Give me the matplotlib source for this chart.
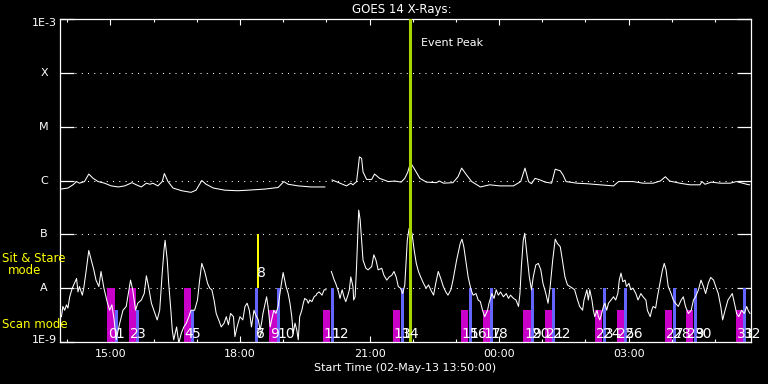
import matplotlib
matplotlib.use('Agg')
import matplotlib.pyplot as plt
import numpy as np

# Tiempo en minutos desde 02-May-13 13:50:00, flujo en log10(W/m^2)
# Canal 1-8 A (curva superior), con hueco de datos
t_long = [1, 11, 18, 23, 27, 34, 40, 46, 53, 62, 71, 81, 90, 100, 106, 113, 120, 125, 129,
          136, 142, 145, 150, 157, 169, 182, 189, 197, 203, 213, 229, 247, 261, 284, 303,
          311, 317, 331, 349, 368, np.nan,
          378, 389, 398, 404, 407, 412, 414, 416, 419, 421, 426, 433, 437, 444, 456, 465,
          474, 479, 483, 487, 493, 500, 509, 523, 527, 533, 546, 553, 558, 565, 572, 584,
          597, 611, 630, 640, 646, 651, 655, 660, 667, 674, 683, 688, 695, 699, 703, 718,
          732, 750, 769, 776, 796, 810, 824, 834, 841, 847, 861, 875, 889, 892, 896, 905,
          917, 931, 940, 954, 958]
log_long = [-6.16, -6.14, -6.08, -6.02, -6.05, -6.02, -5.88, -5.96, -6.02, -6.05, -6.10,
            -6.12, -6.10, -6.04, -6.08, -6.12, -6.05, -6.07, -6.05, -6.10, -6.02, -5.87,
            -6.02, -6.14, -6.19, -6.22, -6.18, -6.00, -6.07, -6.14, -6.18, -6.19, -6.18,
            -6.16, -6.13, -6.02, -6.07, -6.10, -6.12, -6.12, np.nan,
            -5.99, -6.05, -6.10, -6.05, -6.08, -6.02, -5.80, -5.56, -5.59, -5.84, -5.98,
            -5.98, -5.88, -5.96, -6.02, -6.01, -6.03, -5.96, -5.85, -5.67, -5.80, -5.96,
            -6.03, -6.04, -6.01, -6.05, -6.04, -5.93, -5.77, -5.90, -6.02, -6.12, -6.08,
            -6.10, -6.10, -6.02, -5.77, -6.02, -6.06, -5.96, -5.99, -6.03, -6.05, -5.79,
            -5.82, -5.90, -6.02, -6.05, -6.06, -6.08, -6.10, -6.02, -6.02, -6.05, -6.05,
            -6.01, -5.93, -6.01, -6.05, -6.08, -6.08, -6.02, -6.07, -6.03, -6.05, -6.05,
            -6.02, -6.07, -6.08]

# Canal 0.5-4 A (curva inferior)
t_short = [2, 4, 6.5, 9, 11, 13.5, 17, 20, 23, 25, 27, 31, 33, 36.5, 40, 43.5, 47, 50, 54,
           57, 61, 66, 69, 72, 75, 78, 83, 87.5, 92, 95, 98, 101, 105, 108, 113, 117, 120,
           123, 127, 132, 135, 138.5, 142, 144.5, 146, 149, 151, 154, 156, 158, 162, 165,
           168.5, 172, 175.5, 179, 182, 187, 191, 194, 197, 201, 205, 208, 211, 214, 217,
           220.5, 224, 228, 231, 234, 237, 241, 243, 246, 250, 254, 257, 260, 263, 266,
           269.5, 272, 275.5, 278, 280, 282, 285, 287, 289, 292, 294, 297, 300, 303, 307,
           310, 314, 317, 319.5, 322, 324, 326.5, 329, 331, 333, 336, 338, 340, 343, 345,
           347, 350, 353, 356, 357, 360, 364, 367, 369.5, np.nan,
           377, 381, 383, 387, 389, 392, 394.5, 397, 400, 402, 404, 407, 408, 410, 412,
           413.6, 415, 417, 419, 421, 425, 428, 433, 436, 439, 442, 447, 450, 454, 457.5,
           461, 464, 467, 470, 473, 476, 479, 482.5, 485, 489, 492, 495, 498, 501, 505,
           508.5, 512, 515, 519, 522, 525.5, 529, 532.5, 536, 539, 543, 546, 551, 556,
           558.5, 561, 564, 567, 571, 574, 578, 581, 584, 587, 590, 594, 596, 600, 603,
           606, 609, 612, 616, 620, 623, 626, 630, 633.5, 637, 639, 641, 643.6, 645.6, 648,
           652, 655, 657.5, 661, 664.5, 668, 671, 675, 678, 681, 684.5, 688, 691, 695, 698,
           701.5, 705, 708.5, 712, 715, 719, 722, 726, 728, 732, 734, 736, 739, 741, 743,
           746, 748, 750, 752.5, 755, 757, 759.5, 762, 765.5, 769, 772, 775, 777, 779.4,
           782, 785, 787, 790.5, 793, 796, 800, 803, 807, 810, 814, 816, 820, 822, 824,
           827.5, 830, 833.5, 837, 839.5, 842, 845, 849, 852, 855, 859, 863, 866, 869, 873,
           877, 880, 883, 887, 890.5, 894, 897, 900.6, 904, 908, 911, 914.5, 918, 920.6,
           924, 928, 931, 934, 937, 940, 943, 947, 950.6, 954, 956, 958.5]
log_short = [-8.53, -8.34, -8.41, -8.31, -8.37, -8.16, -8.00, -7.91, -7.82, -8.07, -7.97,
             -8.13, -8.00, -7.66, -7.30, -7.48, -7.66, -7.85, -7.97, -7.69, -8.00, -8.28,
             -8.41, -8.31, -8.56, -8.96, -8.65, -8.41, -8.34, -8.10, -7.85, -8.03, -8.41,
             -8.28, -8.22, -8.10, -7.77, -7.97, -8.28, -8.47, -8.59, -8.41, -7.72, -7.29,
             -7.11, -7.48, -7.91, -8.41, -8.78, -8.96, -8.72, -9.02, -8.84, -8.72, -8.65,
             -8.53, -8.41, -8.41, -8.22, -7.85, -7.54, -7.69, -7.91, -8.00, -8.03, -8.22,
             -8.47, -8.59, -8.72, -8.65, -8.53, -8.68, -8.47, -8.53, -8.90, -8.72, -8.53,
             -8.59, -8.34, -8.28, -8.41, -8.72, -8.41, -8.50, -8.59, -8.78, -8.65, -8.47,
             -8.28, -8.16, -8.34, -8.72, -8.59, -8.41, -8.47, -8.34, -7.97, -7.71, -7.97,
             -8.10, -8.28, -8.53, -8.84, -8.65, -8.78, -8.96, -8.53, -8.41, -8.28, -8.19,
             -8.22, -8.28, -8.22, -8.25, -8.16, -8.13, -8.10, -8.07, -8.13, -8.03, -8.03,
             np.nan,
             -7.69, -7.85, -7.91, -8.07, -8.19, -8.03, -8.16, -8.25, -8.13, -8.03, -7.79,
             -7.97, -8.22, -8.16, -7.60, -7.04, -6.55, -6.73, -7.11, -7.48, -7.63, -7.66,
             -7.60, -7.38, -7.48, -7.66, -7.63, -7.76, -7.85, -7.79, -7.76, -7.69, -7.79,
             -7.97, -8.00, -8.10, -7.94, -7.11, -6.89, -6.98, -7.29, -7.54, -7.69, -7.79,
             -7.91, -8.00, -7.94, -8.03, -8.13, -7.91, -7.69, -7.82, -7.97, -8.07, -8.13,
             -8.03, -7.85, -7.48, -7.17, -7.09, -7.23, -7.51, -7.79, -8.03, -8.13, -8.10,
             -8.22, -8.25, -8.41, -8.53, -8.41, -8.28, -8.10, -8.19, -8.03, -8.13, -8.07,
             -8.16, -8.10, -8.19, -8.13, -8.19, -8.22, -8.34, -8.10, -7.60, -7.11, -6.98,
             -7.29, -7.79, -8.03, -7.79, -7.57, -7.54, -7.66, -7.91, -8.10, -8.28, -7.97,
             -7.48, -7.09, -7.17, -7.23, -7.48, -7.79, -7.94, -7.97, -8.00, -8.03, -8.22,
             -8.34, -8.41, -8.22, -8.03, -8.22, -8.03, -8.22, -8.41, -8.53, -8.41, -8.53,
             -8.59, -8.47, -8.34, -8.28, -8.41, -8.28, -8.22, -8.16, -8.22, -8.10, -7.85,
             -7.72, -7.88, -7.85, -7.97, -7.91, -8.03, -8.00, -8.10, -8.22, -8.10, -8.16,
             -8.22, -8.41, -8.53, -8.41, -8.34, -8.37, -8.16, -7.91, -7.66, -7.54, -7.66,
             -7.97, -8.10, -8.22, -8.28, -8.34, -8.22, -8.16, -8.34, -8.47, -8.41, -8.22,
             -8.16, -8.03, -7.85, -7.97, -8.10, -7.91, -7.80, -7.85, -7.97, -8.10, -8.34,
             -8.59, -8.41, -8.22, -8.16, -8.10, -8.28, -8.47, -8.53, -8.41, -8.47, -8.34,
             -8.41, -8.47]

# Observaciones (inicio en minutos); la altura indica el modo
mag_start = [65.7, 95.9, 172.3, 290.8, 365.0, 462.2, 557.1, 587.2, 643.6, 673.8, 743.2,
             773.4, 840.5, 869.6, 939.1]
mag_top = [1e-8, 1e-8, 1e-8] + [3.9e-9] * 12
blue_start = [75.9, 106.0, 182.4, 270.9, 301.0, 376.5, 473.7, 568.2, 597.4, 654.3, 683.9,
              753.9, 783.9, 851.2, 880.7, 949.2]
blue_top = [3.9e-9, 3.9e-9, 3.9e-9] + [1e-8] * 13
sit_start = [273.3]
obs_start = [65.7, 75.9, 95.9, 106.0, 172.3, 182.4, 270.9, 270.9, 273.3, 290.8, 301.0,
             365.0, 376.5, 462.2, 473.7, 557.1, 568.2, 587.2, 597.4, 643.6, 654.3, 673.8,
             683.9, 743.2, 753.9, 773.4, 783.9, 840.5, 851.2, 869.6, 880.7, 939.1, 949.2]
obs_sit = [8]
peak_time = 486

tick_min = [70, 250, 430, 610, 790]
tick_lbl = ['15:00', '18:00', '21:00', '00:00', '03:00']
class_lvl = [1e-8, 1e-7, 1e-6, 1e-5, 1e-4]
class_lbl = ['A', 'B', 'C', 'M', 'X']

fig = plt.figure(figsize=(7.68, 3.84), dpi=100, facecolor='black')
ax = fig.add_axes([60 / 768, 42 / 384, 691 / 768, 323 / 384], facecolor='black')
ax.set_yscale('log')
ax.set_xlim(0, 960)
ax.set_ylim(1e-9, 1e-3)

# barras de observacion
ax.bar(mag_start, np.array(mag_top) - 1e-9, bottom=1e-9, width=10.2, align='edge',
       color='#c800c8', zorder=2)
ax.bar(blue_start, np.array(blue_top) - 1e-9, bottom=1e-9, width=4.4, align='edge',
       color='#6464ff', zorder=2)
ax.bar(sit_start, 1e-7 - 1e-8, bottom=1e-8, width=3.5, align='edge', color='#ffff00', zorder=2)

# rejilla punteada en los niveles de clase
for lv in class_lvl:
    ax.axhline(lv, xmin=0.022, xmax=0.98, color='white', lw=0.75, ls=(0, (1, 5)), zorder=1)

ax.plot(t_long, 10 ** np.array(log_long), color='white', lw=0.75, zorder=3)
ax.plot(t_short, 10 ** np.array(log_short), color='white', lw=0.75, zorder=3)

ax.axvline(peak_time, color='#a8d400', lw=2.2, zorder=4)
ax.text(peak_time + 15, 0.926, 'Event Peak', color='white', fontsize=8, va='center',
        transform=ax.get_xaxis_transform())

# numeros de las observaciones
for i, t0 in enumerate(obs_start):
    yy = 0.201 if i in obs_sit else 0.012
    ax.text(t0 + 1, yy, str(i), color='white', fontsize=10, ha='left', va='baseline',
            transform=ax.get_xaxis_transform(), zorder=5)

# ejes
for s in ax.spines.values():
    s.set_color('white')
    s.set_linewidth(0.9)
ax.set_xticks(tick_min)
ax.set_xticklabels(tick_lbl)
ax.set_xticks(np.arange(10, 960, 60), minor=True)
ax.tick_params(axis='x', which='major', direction='in', length=4.5, width=0.8, color='white',
               labelcolor='white', labelsize=8, pad=5, top=True)
ax.tick_params(axis='x', which='minor', direction='in', length=2.2, width=0.8, color='white',
               top=True)
ax.set_yticks([1e-9, 1e-8, 1e-7, 1e-6, 1e-5, 1e-4, 1e-3])
ax.set_yticks([], minor=True)
ax.set_yticklabels([])
ax.tick_params(axis='y', which='major', direction='in', length=10, width=0.9, color='white',
               right=True)

ytr = ax.get_yaxis_transform()
for lv, lb in zip(class_lvl, class_lbl):
    ax.text(-0.023, lv, lb, color='white', fontsize=8, ha='center', va='center', transform=ytr)
ax.text(-0.005, 10 ** -3.08, '1E-3', color='white', fontsize=8, ha='right', va='center',
        transform=ytr)
ax.text(-0.005, 10 ** -8.96, '1E-9', color='white', fontsize=8, ha='right', va='center',
        transform=ytr)

fig.text(402 / 768, 1 - 10 / 384, 'GOES 14 X-Rays:', color='white', fontsize=8.5,
         ha='center', va='center')
fig.text(405 / 768, 1 - 368 / 384, 'Start Time (02-May-13 13:50:00)', color='white',
         fontsize=8, ha='center', va='center')
fig.text(2 / 768, 1 - 259 / 384, 'Sit & Stare', color='#ffff00', fontsize=8.5,
         ha='left', va='center')
fig.text(25 / 768, 1 - 271 / 384, 'mode', color='#ffff00', fontsize=8.5,
         ha='center', va='center')
fig.text(2 / 768, 1 - 324 / 384, 'Scan mode', color='#ffff00', fontsize=8.5,
         ha='left', va='center')

fig.savefig('out.png', dpi=100, facecolor='black')
